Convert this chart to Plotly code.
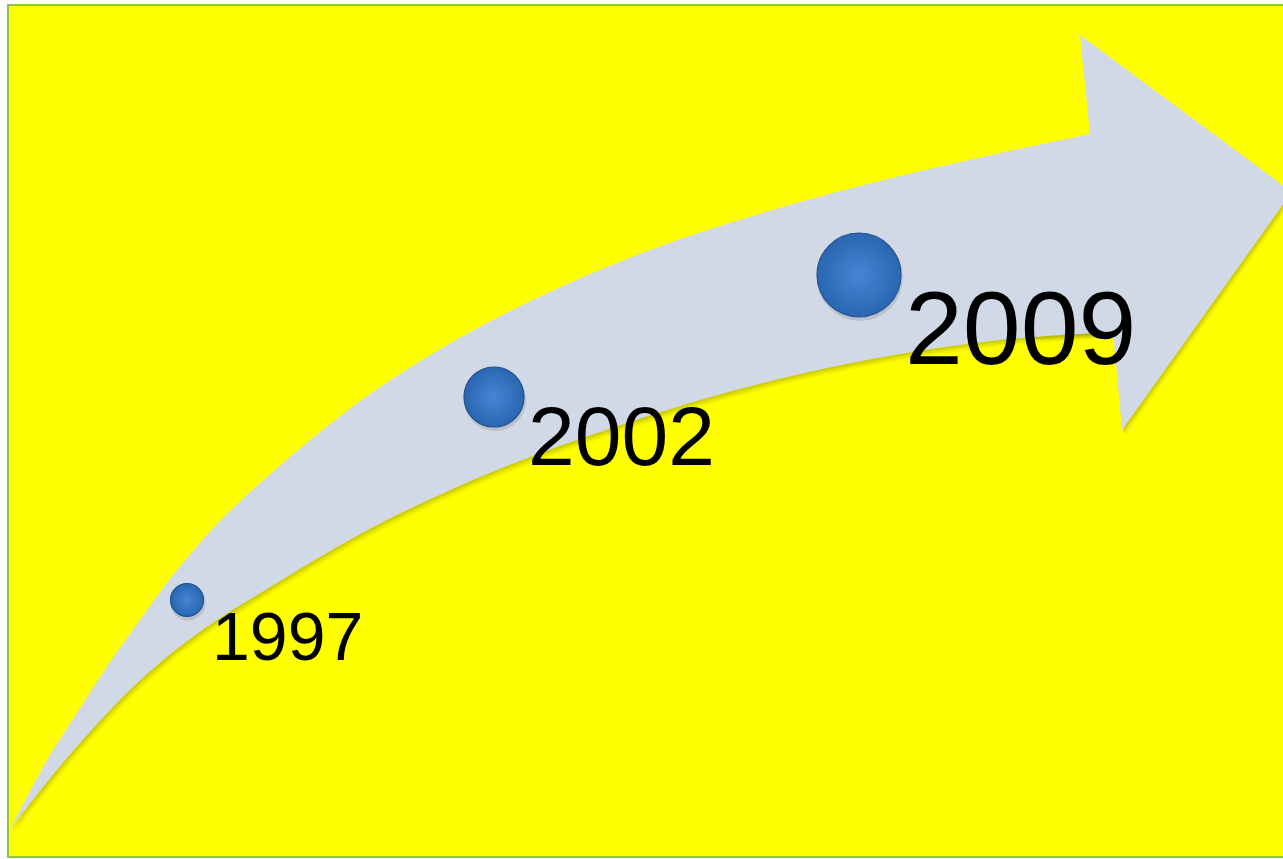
import plotly.graph_objects as go

# ---- data (page-pixel coordinates, y grows downward) ----
years = ["1997", "2002", "2009"]
point_x = [187, 494, 859]
point_y = [600, 397, 275]
point_d = [33, 60, 84]

label_x = [210, 526, 903]
label_y = [636, 436, 328]
label_size = [68, 84, 104]

upper_x = [10, 20, 35, 50, 80, 110, 140, 160, 173, 217, 267, 320, 383, 483, 583, 683, 800, 900, 1000, 1090]
upper_y = [829, 810, 782, 755, 708, 662, 620, 592, 575, 524, 477, 432, 385, 325, 277, 238, 202, 176, 153, 134]

lower_x = [10, 40, 67, 100, 133, 173, 217, 267, 320, 383, 473, 530, 600, 700, 800, 900, 1000, 1113]
lower_y = [829, 791, 758, 721, 687, 652, 620, 589, 557, 522, 480, 457, 432, 400, 374, 354, 340, 332]

head_x = [1090, 1080, 1292, 1122, 1113, 1030, 1030]
head_y = [134, 35, 192, 430, 332, 334, 158]

W, H = 1283, 859

fig = go.Figure()


def arrow(dx, dy, color):
    fig.add_trace(go.Scatter(
        x=[v + dx for v in upper_x], y=[v + dy for v in upper_y],
        mode="lines", line=dict(width=0, shape="spline", smoothing=1),
        hoverinfo="skip", showlegend=False))
    fig.add_trace(go.Scatter(
        x=[v + dx for v in lower_x], y=[v + dy for v in lower_y],
        mode="lines", line=dict(width=0, shape="spline", smoothing=1),
        fill="tonexty", fillcolor=color, hoverinfo="skip", showlegend=False))
    fig.add_trace(go.Scatter(
        x=[v + dx for v in head_x], y=[v + dy for v in head_y],
        mode="lines", fill="toself", line=dict(width=0),
        fillcolor=color, hoverinfo="skip", showlegend=False))


# soft shadow of the arrow
for dx, dy, a in [(1, 2, 0.16), (2, 4, 0.12), (3, 6, 0.08)]:
    arrow(dx, dy, f"rgba(110,110,0,{a})")

# arrow
arrow(0, 0, "#D1D9E7")

# circle shadows
fig.add_trace(go.Scatter(
    x=[v + 1 for v in point_x], y=[v + 3 for v in point_y], mode="markers",
    marker=dict(size=[d + 2 for d in point_d], color="rgba(60,60,60,0.22)", line=dict(width=0)),
    hoverinfo="skip", showlegend=False))

# circles
fig.add_trace(go.Scatter(
    x=point_x, y=point_y, mode="markers",
    marker=dict(size=point_d, color="#2A66B2", opacity=1,
                gradient=dict(type="radial", color="#4586D2"),
                line=dict(width=1.2, color="#24528C")),
    text=years, hoverinfo="text", showlegend=False))

for t, x, y, s in zip(years, label_x, label_y, label_size):
    fig.add_annotation(x=x, y=y, text=t, showarrow=False, xanchor="left", yanchor="middle",
                       font=dict(family="Arial, Liberation Sans", size=s, color="#000000"))

fig.update_layout(
    width=W, height=H, margin=dict(l=0, r=0, t=0, b=0),
    paper_bgcolor="#FFFFFF", plot_bgcolor="#FFFFFF",
    xaxis=dict(range=[0, W], visible=False, fixedrange=True),
    yaxis=dict(range=[H, 0], visible=False, fixedrange=True),
    shapes=[dict(type="rect", xref="x", yref="y", x0=8, y0=5, x1=1295, y1=857,
                 fillcolor="#FFFF00", line=dict(color="#8DC63F", width=2), layer="below")],
)

fig.write_html("out.html", config={"displayModeBar": False},
               post_script="document.body.style.margin='0';document.body.style.overflow='hidden';")
